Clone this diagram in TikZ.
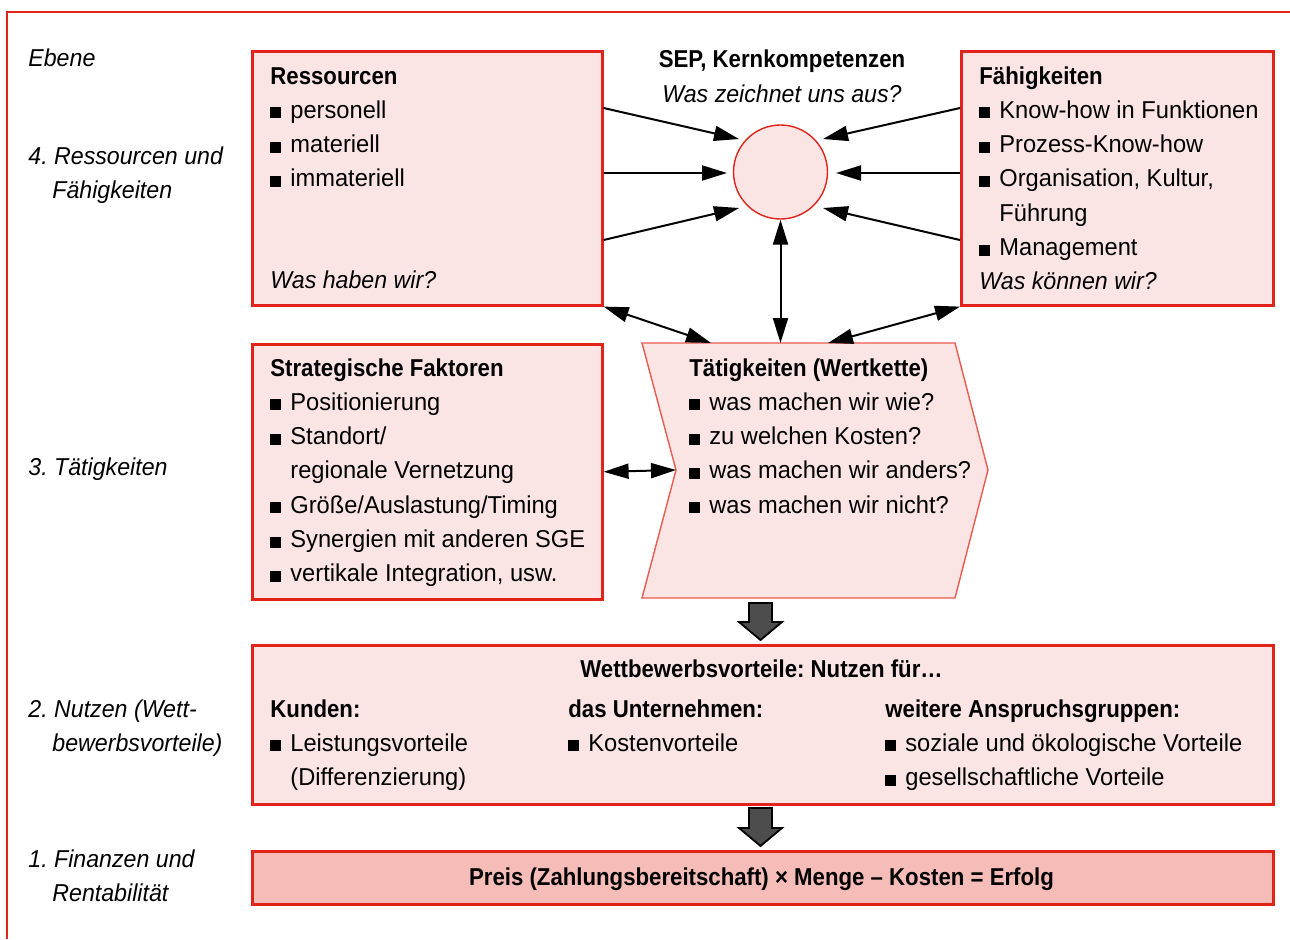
\documentclass[tikz,border=0pt]{standalone}
\usepackage{fontspec}
\setmainfont{Liberation Sans}[UprightFeatures={FakeStretch=0.97},BoldFeatures={FakeStretch=0.91},ItalicFeatures={FakeStretch=0.95},BoldItalicFeatures={FakeStretch=0.91}]
\usetikzlibrary{arrows.meta}
\definecolor{fr}{HTML}{E2231A}
\definecolor{pinkfill}{HTML}{FBE5E4}
\definecolor{resfill}{HTML}{F6BCB8}
\definecolor{lred}{HTML}{EB5A4E}
\definecolor{darkg}{HTML}{4D4D4D}
\newcommand{\bul}{\makebox[10pt][l]{\rule{5.5pt}{5.5pt}}}
\newcommand{\ind}{\hspace*{10pt}}
\frenchspacing
\begin{document}
\begin{tikzpicture}[x=0.5pt,y=-0.5pt,
  box/.style={draw=fr, line width=1.3pt, fill=pinkfill, inner sep=0pt, anchor=north west},
  txt/.style={inner sep=0pt, anchor=base west, align=left, font=\fontsize{12.2pt}{17.15pt}\selectfont\frenchspacing},
  lab/.style={inner sep=0pt, anchor=base west, align=left, font=\fontsize{12.2pt}{17.15pt}\selectfont\itshape\frenchspacing},
  ctxt/.style={inner sep=0pt, anchor=base, align=center, font=\fontsize{12.2pt}{17.15pt}\selectfont\frenchspacing},
  arr/.style={line width=1pt, -{Triangle[length=12.5pt,width=7.5pt]}},
  darr/.style={line width=1pt, {Triangle[length=12.5pt,width=7.5pt]}-{Triangle[length=12.5pt,width=7.5pt]}},
  blockarrow/.style={draw=black, line width=0.9pt, fill=darkg, line join=miter}
]
\useasboundingbox (0,0) rectangle (1290,939);
% outer frame
\draw[fr, line width=1.3pt] (7,939) -- (7,12) -- (1290,12);

% level labels (anchor = baseline of last line)
\node[lab] (eb) at (28,66) {Ebene};
\node[lab] (l4) at (28,198.3) {4. Ressourcen und\\\hspace*{12pt}Fähigkeiten};
\node[lab] (l3) at (28,475) {3. Tätigkeiten};
\node[lab] (l2) at (28,751.3) {2. Nutzen (Wett-\\\hspace*{12pt}bewerbsvorteile)};
\node[lab] (l1) at (28,901.5) {1. Finanzen und\\\hspace*{12pt}Rentabilität};

% boxes
\node[box, minimum width=175pt, minimum height=127pt] (res) at (251,50) {};
\node[box, minimum width=156pt, minimum height=127pt] (fah) at (960,50) {};
\node[box, minimum width=175pt, minimum height=127.5pt] (str) at (251,343) {};
\node[box, minimum width=510.5pt, minimum height=79.5pt] (nutz) at (251,644) {};
\node[box, line width=1.5pt, fill=resfill, minimum width=510.5pt, minimum height=26.5pt] (erg) at (251,850) {};

% circle
\node[circle, draw=fr, line width=0.7pt, fill=pinkfill, minimum size=47pt, inner sep=0pt] (circ) at (780.5,172) {};

% chevron
\coordinate (chtl) at (642,343);
\coordinate (chtr) at (955,343);
\coordinate (chpt) at (988,470);
\coordinate (chbr) at (955,598);
\coordinate (chbl) at (642,598);
\coordinate (chnotch) at (676,470);
\coordinate (chtop) at (780.5,343);
\coordinate (chtopl) at (711,343);
\coordinate (chtopr) at (828,343);
\draw[draw=lred, line width=0.7pt, fill=pinkfill] (chtl) -- (chtr) -- (chpt) -- (chbr) -- (chbl) -- (chnotch) -- cycle;

% texts in boxes
\node[txt] (res-t) at (270,186.9) {\textbf{Ressourcen}\\\bul personell\\\bul materiell\\\bul immateriell};
\node[lab] (res-q) at (270,288) {Was haben wir?};
\node[txt] (fah-t) at (979,289.8) {\textbf{Fähigkeiten}\\\bul Know-how in Funktionen\\\bul Prozess-Know-how\\\bul Organisation, Kultur,\\\ind Führung\\\bul Management\\\textit{Was können wir?}};
\node[ctxt] (sep) at (782,102) {\textbf{SEP, Kernkompetenzen}\\\textit{Was zeichnet uns aus?}};
\node[txt] (str-t) at (270,581.8) {\textbf{Strategische Faktoren}\\\bul Positionierung\\\bul Standort/\\\ind regionale Vernetzung\\\bul Größe/Auslastung/Timing\\\bul Synergien mit anderen SGE\\\bul vertikale Integration, usw.};
\node[txt] (tat-t) at (689,513.2) {\textbf{Tätigkeiten (Wertkette)}\\\bul was machen wir wie?\\\bul zu welchen Kosten?\\\bul was machen wir anders?\\\bul was machen wir nicht?};
\node[ctxt] (nutz-h) at (761.5,677) {\textbf{Wettbewerbsvorteile: Nutzen für…}};
\node[txt] (kund) at (270,785.6) {\textbf{Kunden:}\\\bul Leistungsvorteile\\\ind (Differenzierung)};
\node[txt] (unt) at (568,751.3) {\textbf{das Unternehmen:}\\\bul Kostenvorteile};
\node[txt] (weit) at (885,785.6) {\textbf{weitere Anspruchsgruppen:}\\\bul soziale und ökologische Vorteile\\\bul gesellschaftliche Vorteile};
\node[ctxt] (erg-t) at (761.5,885) {\textbf{Preis (Zahlungsbereitschaft) × Menge – Kosten = Erfolg}};

% arrows to circle
\draw[arr] ([yshift=-29pt]res.north east) -- ([shift={(-41.5,-33)}]circ.center);
\draw[arr] ([yshift=-61.5pt]res.north east) -- ([shift={(-53.5,1)}]circ.center);
\draw[arr] ([yshift=-95pt]res.north east) -- ([shift={(-41.5,36)}]circ.center);
\draw[arr] ([yshift=-29pt]fah.north west) -- ([shift={(42.5,-33)}]circ.center);
\draw[arr] ([yshift=-61.5pt]fah.north west) -- ([shift={(55.5,1)}]circ.center);
\draw[arr] ([yshift=-95pt]fah.north west) -- ([shift={(42.5,36)}]circ.center);

% double arrows
\draw[darr] (circ.south) -- (chtop);
\draw[darr] (res.south east) -- (chtopl);
\draw[darr] (fah.south west) -- (chtopr);
\draw[darr] (str.east) -- (chnotch);

% block arrows
\draw[blockarrow] (749,603) -- (772,603) -- (772,622) -- (782,622) -- (760.5,640) -- (739,622) -- (749,622) -- cycle;
\draw[blockarrow] (749,808) -- (772,808) -- (772,828) -- (782,828) -- (760.5,846) -- (739,828) -- (749,828) -- cycle;
\end{tikzpicture}
\end{document}
